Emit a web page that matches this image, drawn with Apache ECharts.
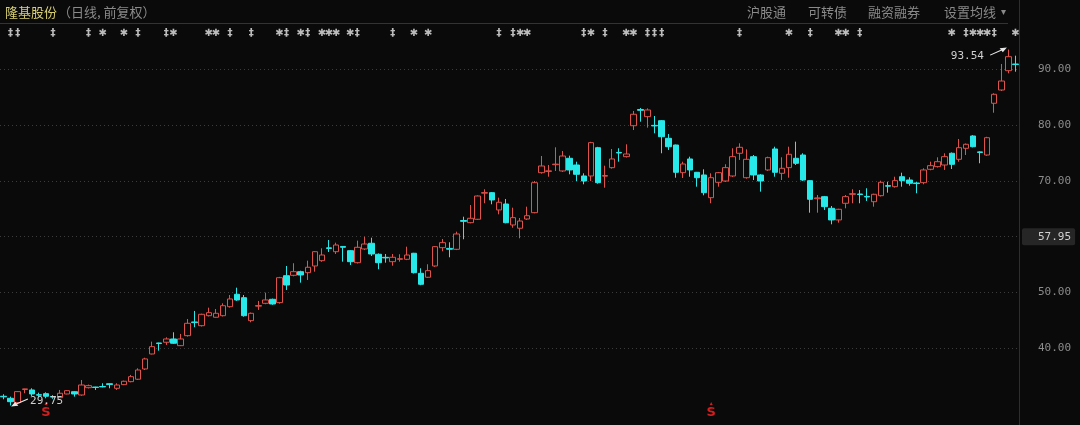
<!DOCTYPE html>
<html><head><meta charset="utf-8">
<script src="https://cdn.jsdelivr.net/npm/echarts@6/dist/echarts.min.js"></script>
<style>html,body{margin:0;padding:0;background:#0a0a0a;}#c{width:1080px;height:425px;}</style>
</head><body><div id="c"></div>
<script>
// ---- data ----
const OPEN  = [31.40,31.04,30.26,32.62,32.53,31.68,31.87,31.35,31.15,31.81,32.22,31.63,32.94,33.05,33.15,33.65,32.83,33.48,34.02,34.45,36.29,38.98,40.95,41.08,41.67,40.47,42.26,44.72,44.05,45.84,45.56,45.84,47.45,49.68,49.07,44.95,47.55,48.06,48.78,48.18,53.01,53.08,53.73,53.55,54.75,55.70,58.00,57.31,58.25,57.49,55.34,57.80,58.82,56.85,56.30,55.52,55.95,55.95,57.03,53.44,52.73,54.75,58.03,57.90,57.74,62.90,62.51,63.12,67.80,67.89,64.79,65.86,62.10,61.51,63.17,64.30,71.47,71.70,72.90,71.78,74.05,72.85,70.88,70.88,75.95,70.85,72.37,75.10,74.34,79.89,82.80,81.51,79.95,80.79,77.63,76.43,71.47,73.93,71.54,71.06,66.99,69.75,69.98,70.88,74.95,70.57,74.34,71.06,71.96,75.72,71.36,72.37,74.05,74.64,70.04,66.80,67.17,65.09,63.00,65.99,67.60,67.65,67.22,66.27,67.35,69.15,68.96,70.75,70.16,69.62,69.68,72.08,72.55,72.85,74.95,73.87,75.84,78.05,75.20,74.64,83.91,86.29,89.75,90.95];
const CLOSE = [31.30,30.43,32.23,32.72,31.81,31.60,31.40,31.25,31.94,32.40,31.81,33.42,33.30,32.98,33.08,33.50,33.42,34.09,34.91,36.11,38.09,40.29,40.85,41.67,40.90,41.67,44.48,44.60,46.09,46.38,46.27,47.63,48.84,48.66,45.84,46.27,47.65,48.66,47.94,52.65,51.34,53.73,53.14,54.52,57.31,56.72,57.90,58.51,58.10,55.52,58.10,58.69,56.90,55.34,56.20,56.31,56.05,56.72,53.55,51.47,53.91,58.21,58.93,57.75,60.49,62.75,63.30,67.29,67.90,66.58,66.17,62.51,63.41,62.81,63.76,69.68,72.67,71.80,73.00,74.46,71.96,71.18,69.98,76.85,69.68,70.95,73.93,75.00,74.82,81.94,82.65,82.71,79.85,77.92,76.13,71.54,73.03,71.96,70.57,67.89,70.57,71.47,72.37,74.34,76.02,73.87,71.06,69.98,74.16,71.54,72.26,74.77,73.15,70.16,66.70,66.95,65.38,63.00,64.91,67.17,67.70,67.55,67.12,67.60,69.75,69.05,70.04,70.04,69.57,69.52,71.96,72.73,73.44,74.34,72.97,75.95,76.56,76.13,75.10,77.74,85.52,87.90,92.26,90.85];
const LOW   = [30.86,29.75,30.20,31.94,31.45,31.22,31.04,30.95,31.10,31.75,31.33,31.50,32.80,32.53,33.00,32.83,32.53,33.40,33.90,34.32,36.10,38.90,39.57,40.60,40.80,40.40,42.10,43.77,43.90,45.70,45.50,45.70,47.30,48.50,45.66,44.66,46.87,47.90,47.80,48.00,50.45,52.90,51.76,52.24,53.73,55.50,57.26,56.90,55.52,54.93,55.20,57.60,56.54,54.16,55.34,54.80,55.52,55.80,53.40,51.30,52.60,54.60,57.38,56.31,57.60,59.54,62.40,63.00,65.99,65.81,64.01,62.40,61.60,59.71,63.00,64.20,71.30,70.75,71.78,71.60,71.18,69.98,69.39,69.98,69.50,68.78,72.20,73.44,74.20,79.12,80.61,79.54,78.53,74.95,75.54,70.57,70.52,70.75,68.96,67.42,65.99,68.96,69.80,70.70,73.75,70.40,70.16,68.07,71.80,70.75,70.16,70.57,72.85,70.00,64.30,64.30,64.79,62.22,62.51,65.09,65.99,65.99,66.40,65.38,67.20,67.89,68.80,68.96,69.14,67.78,69.39,71.90,72.40,71.96,72.13,73.44,74.64,76.00,73.16,74.50,82.22,86.10,89.28,89.57];
const HIGH  = [31.76,31.33,32.30,32.75,32.83,32.04,32.11,31.60,32.53,32.50,32.30,34.32,33.50,33.10,33.73,33.70,33.73,34.20,35.22,36.41,38.30,41.19,41.00,41.97,42.87,42.57,45.25,46.69,46.20,47.28,47.04,48.06,49.55,50.86,49.55,46.40,48.48,49.97,48.90,52.80,54.75,55.24,53.90,55.70,57.40,57.92,59.41,58.93,58.30,57.60,59.29,60.00,59.82,57.00,56.90,56.90,56.85,58.21,57.10,54.34,55.06,58.30,59.59,59.00,60.90,63.58,65.68,67.40,68.50,68.00,66.99,66.76,65.20,63.35,65.38,69.98,74.46,72.85,76.02,75.36,74.52,73.44,71.36,77.00,76.10,72.72,75.72,75.85,76.56,82.53,83.07,83.00,81.63,80.90,78.40,76.50,73.44,74.34,71.60,72.08,71.36,71.60,72.98,75.85,76.74,75.66,74.64,71.20,74.34,76.13,74.23,76.13,77.03,74.95,70.10,67.47,67.30,65.50,65.00,67.47,68.50,68.36,68.68,67.70,70.04,69.86,70.75,71.47,70.64,69.80,72.26,73.44,74.23,74.95,75.10,77.51,76.70,78.20,75.30,77.90,85.70,90.95,93.54,92.44];
const CATEGORIES = OPEN.map((_, i) => 'D' + (i + 1));
const TICK_VALUES = [40, 50, 60, 70, 80, 90];
const TICK_LABELS = ['40.00', '50.00', '57.95', '70.00', '80.00', '90.00'];
const HIGHLIGHT_LABEL = '57.95';
// event markers row: candle index and kind (d = double-bar mark, s = star mark)
const EVENT_IDX  = [1,2,7,12,14,17,19,23,24,29,30,32,35,39,40,42,43,45,46,47,49,50,55,58,60,70,72,73,74,82,83,85,88,89,91,92,93,104,111,114,118,119,121,134,136,137,138,139,140,143];
const EVENT_KIND = ['d','d','d','d','s','s','d','d','s','s','s','d','d','s','d','s','d','s','s','s','s','d','d','s','s','d','d','s','s','d','s','d','s','s','d','d','d','d','s','d','s','s','d','s','d','s','s','s','d','s'];
const S_IDX = [6, 100];
const TITLE = '隆基股份';
const SUBTITLE = '（日线, 前复权）';
const MENU = ['沪股通', '可转债', '融资融券', '设置均线'];

// ---- styles ----
const BG = '#0a0a0a', RED = '#e0524c', CYAN = '#28e9e9';
const MONO = '"DejaVu Sans Mono", monospace';
const CJK = '"Noto Sans CJK SC", sans-serif';
const ARROW = 'path://M0,9.4 L13.5,2.6 L14.1,3.8 L0.6,10.6 Z M11.5,1 L20,0 L15.2,6.2 Z';

const candles = OPEN.map((o, i) => [o, CLOSE[i], LOW[i], HIGH[i]]);
const chart = echarts.init(document.getElementById('c'), null, {renderer: 'canvas'});
const menuX = [747, 808, 868, 944];

chart.setOption({
  backgroundColor: BG,
  animation: false,
  grid: [
    {left: 0, right: 61, top: 0, bottom: 0},
    {left: 0, right: 61, top: 27, height: 12},
    {left: 0, right: 61, top: 400, height: 20}
  ],
  xAxis: [0, 1, 2].map(g => ({type: 'category', data: CATEGORIES, gridIndex: g, show: false})),
  yAxis: [
    {
      type: 'value', position: 'right', min: 26.25, max: 102.42, gridIndex: 0,
      axisLine: {show: true, lineStyle: {color: '#2e2e2e'}},
      axisTick: {show: false, customValues: TICK_VALUES},
      splitLine: {show: true, lineStyle: {color: '#3c3c3c', type: [1, 3], width: 1}},
      axisLabel: {
        customValues: TICK_VALUES, margin: 3,
        formatter: v => {
          const t = TICK_LABELS[TICK_VALUES.indexOf(v)];
          return t === HIGHLIGHT_LABEL ? '{h|' + t + '}' : '{n|' + t + '}';
        },
        rich: {
          n: {color: '#8c8c8c', fontFamily: MONO, fontSize: 11, padding: [0, 0, 0, 16]},
          h: {color: '#d0d0d0', fontFamily: MONO, fontSize: 11, backgroundColor: '#262626', borderRadius: 2, padding: [3, 4, 3, 16]}
        }
      }
    },
    {type: 'value', gridIndex: 1, min: 0, max: 1, show: false},
    {type: 'value', gridIndex: 2, min: 0, max: 1, show: false}
  ],
  series: [
    {
      type: 'candlestick', data: candles, barWidth: 6,
      itemStyle: {color: BG, color0: CYAN, borderColor: RED, borderColor0: CYAN, borderWidth: 1},
      markPoint: {
        symbol: ARROW, symbolSize: [17, 8],
        itemStyle: {color: '#e6e6e6'},
        label: {show: true, color: '#cfcfcf', fontFamily: MONO, fontSize: 11, formatter: p => Number(p.value).toFixed(2)},
        data: [
          {type: 'max', valueDim: 'highest', symbolOffset: [-10, 2], label: {position: 'left', distance: 6, offset: [0, 5]}},
          {type: 'min', valueDim: 'lowest', symbolRotate: 180, symbolOffset: [9, -3], label: {position: 'right', distance: 2, offset: [0, -1]}}
        ]
      }
    },
    {
      type: 'scatter', xAxisIndex: 1, yAxisIndex: 1, symbolSize: 0,
      data: EVENT_IDX.map((x, k) => ({value: [x, 0.5], kind: EVENT_KIND[k]})),
      label: {show: true, position: 'inside', color: '#e8e8e8', fontSize: 10, fontWeight: 'bold', fontFamily: '"DejaVu Sans", sans-serif',
        formatter: p => p.data.kind === 's' ? '✱' : '‡'}
    },
    {
      type: 'scatter', xAxisIndex: 2, yAxisIndex: 2, symbolSize: 0,
      data: S_IDX.map(x => [x, 0.5]),
      label: {show: true, position: 'inside', formatter: '{t|▲}\n{s|S}',
        rich: {t: {color: '#ff2626', fontSize: 5, lineHeight: 5, align: 'center'}, s: {color: '#ff2626', fontSize: 13, fontWeight: 'bold', lineHeight: 12, align: 'center', fontFamily: '"DejaVu Sans", sans-serif'}}}
    }
  ],
  graphic: [
    {type: 'text', x: 5, y: 12, style: {text: TITLE, fill: '#d8cf72', font: '13px ' + CJK, verticalAlign: 'middle'}},
    {type: 'text', x: 58, y: 12, style: {text: SUBTITLE, fill: '#8a8a8a', font: '13px ' + CJK, verticalAlign: 'middle'}},
    ...MENU.map((t, i) => ({type: 'text', x: menuX[i], y: 12, style: {text: t, fill: '#8a8a8a', font: '13px ' + CJK, verticalAlign: 'middle'}})),
    {type: 'text', x: 1001, y: 12, style: {text: '▾', fill: '#8a8a8a', font: '10px "DejaVu Sans"', verticalAlign: 'middle'}},
    {type: 'line', shape: {x1: 0, y1: 23.5, x2: 1008, y2: 23.5}, style: {stroke: '#333333', lineWidth: 1}}
  ]
});
</script></body></html>
